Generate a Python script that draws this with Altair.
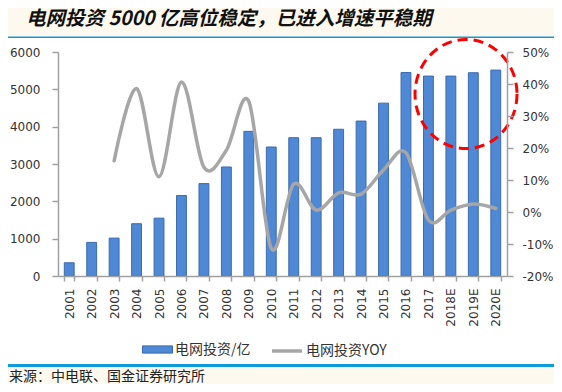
import altair as alt
import pandas as pd

# ---------------- data ----------------
years = ["2001", "2002", "2003", "2004", "2005", "2006", "2007", "2008", "2009", "2010",
         "2011", "2012", "2013", "2014", "2015", "2016", "2017", "2018E", "2019E", "2020E"]
invest = [355, 900, 1015, 1400, 1550, 2155, 2475, 2920, 3875, 3455,
          3705, 3705, 3930, 4150, 4630, 5450, 5355, 5355, 5445, 5515]
yoy_years = years[2:]
yoy_pct = [16, 38.6, 11, 40.6, 14, 19.3, 34.5, -11.4, 8.7, 0.6,
           6, 5.6, 13.1, 18.5, -2.5, 0.6, 2.5, 1.1]
left_ticks = [0, 1000, 2000, 3000, 4000, 5000, 6000]
right_ticks = [-0.2, -0.1, 0.0, 0.1, 0.2, 0.3, 0.4, 0.5]

title_text = "电网投资 5000 亿高位稳定，已进入增速平稳期"
source_text = "来源：中电联、国金证券研究所"
bar_label = "电网投资/亿"
line_label = "电网投资YOY"

# ---------------- styles ----------------
CREAM = "#FEF9EE"
BLUE_LINE = "#0E9BDA"
BAR = "#4F88D4"
BAR_EDGE = "#3B6BB0"
GRAY = "#A6A6A6"
AXIS = "#A0A0A0"
TEXT = "#333333"
CJK = "Noto Sans CJK SC"
LAT = "DejaVu Sans"

bars_df = pd.DataFrame({"year": years, "invest": invest, "series": bar_label})
line_df = pd.DataFrame({"year": yoy_years, "yoy": [v / 100 for v in yoy_pct], "series": line_label})
one = pd.DataFrame({"a": [0]})

x_scale = alt.Scale(domain=years, paddingInner=0.56, paddingOuter=0.28)

bg = alt.Chart(one).mark_rect(color="white").encode(
    x=alt.value(-50), x2=alt.value(496), y=alt.value(-14), y2=alt.value(312))
top_line = alt.Chart(one).mark_rect(color=BLUE_LINE).encode(
    x=alt.value(-50), x2=alt.value(496), y=alt.value(-15.5), y2=alt.value(-14))
bottom_line = alt.Chart(one).mark_rect(color=BLUE_LINE).encode(
    x=alt.value(-50), x2=alt.value(496), y=alt.value(312), y2=alt.value(315))

title = alt.Chart(one).mark_text(
    text=title_text, align="left", baseline="middle", font=CJK, fontSize=19.5,
    fontStyle="italic", fontWeight="bold", color="#111111"
).encode(x=alt.value(-32), y=alt.value(-33))

source = alt.Chart(one).mark_text(
    text=source_text, align="left", baseline="middle", font=CJK, fontSize=14,
    color="#222222"
).encode(x=alt.value(-49), y=alt.value(325))

bars = alt.Chart(bars_df).mark_bar(stroke=BAR_EDGE, strokeWidth=1).encode(
    x=alt.X("year:N", scale=x_scale, sort=years,
            axis=alt.Axis(title=None, labelAngle=270, tickBand="extent", tickSize=5,
                          labelPadding=7, labelFont=LAT, labelFontSize=12,
                          labelColor=TEXT, domainColor=AXIS, tickColor=AXIS,
                          domainWidth=1.5, tickWidth=1.5, zindex=1)),
    y=alt.Y("invest:Q", scale=alt.Scale(domain=[0, 6000]),
            axis=alt.Axis(orient="left", title=None, values=left_ticks, grid=False,
                          tickSize=6, labelPadding=12, labelFont=LAT, labelFontSize=12,
                          labelColor=TEXT, domainColor=AXIS, tickColor=AXIS,
                          domainWidth=1.5, tickWidth=1.5, format="d", zindex=1)),
    color=alt.Color("series:N", scale=alt.Scale(domain=[bar_label], range=[BAR]),
                    legend=alt.Legend(title=None, orient="none", legendX=84, legendY=282,
                                      symbolType="M-1,-0.24H1V0.24H-1Z", symbolSize=900,
                                      symbolStrokeColor=BAR_EDGE, symbolStrokeWidth=1,
                                      labelFont=CJK, labelFontSize=14, labelColor=TEXT,
                                      labelOffset=2, padding=0, zindex=1)),
)

line = alt.Chart(line_df).mark_line(interpolate="cardinal", strokeWidth=3.5, strokeCap="round").encode(
    x=alt.X("year:N", scale=x_scale, sort=years),
    y=alt.Y("yoy:Q", scale=alt.Scale(domain=[-0.2, 0.5]),
            axis=alt.Axis(orient="right", title=None, values=right_ticks, grid=False,
                          labelExpr="round(datum.value * 100) + '%'",
                          tickSize=6, labelPadding=9, labelFont=LAT,
                          labelFontSize=12, labelColor=TEXT, domainColor=AXIS,
                          tickColor=AXIS, domainWidth=1.5, tickWidth=1.5, zindex=1)),
    stroke=alt.Stroke("series:N", scale=alt.Scale(domain=[line_label], range=[GRAY]),
                      legend=alt.Legend(title=None, orient="none", legendX=212, legendY=282,
                                        symbolType="stroke", symbolSize=900,
                                        symbolStrokeWidth=3.5, labelFont=CJK,
                                        labelFontSize=14, labelColor=TEXT,
                                        labelOffset=2, padding=0, zindex=1)),
)

circle = alt.Chart(one).mark_point(
    shape="M1,0A1,1.07,0,1,1,-1,0A1,1.07,0,1,1,1,0Z", size=10404, filled=False,
    stroke="#FF0000", strokeWidth=3, strokeDash=[10, 6], opacity=1
).encode(x=alt.value(408), y=alt.value(42))

chart = alt.layer(bg, top_line, bottom_line, title, source, bars, line, circle).resolve_scale(
    y="independent", color="independent", stroke="independent"
).properties(
    width=449, height=224,
    padding={"left": 50, "top": 44, "right": 47, "bottom": 108},
    autosize=alt.AutoSizeParams(type="none"),
).configure(background=CREAM).configure_view(stroke=None)

chart.save("out.html", embed_options={"renderer": "svg", "actions": False})
